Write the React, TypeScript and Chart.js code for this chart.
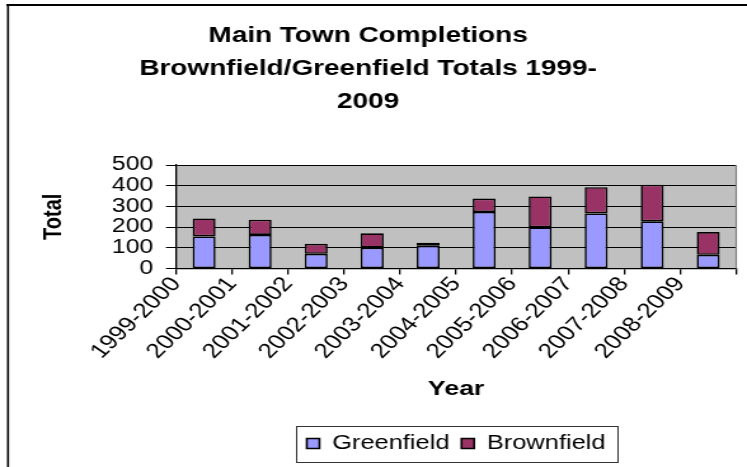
import React, { useEffect, useRef } from 'react';
import { Chart, registerables } from 'chart.js';

Chart.register(...registerables);

const categories = [
  '1999-2000', '2000-2001', '2001-2002', '2002-2003', '2003-2004',
  '2004-2005', '2005-2006', '2006-2007', '2007-2008', '2008-2009',
];
const greenfield = [155, 162, 71, 101, 110, 273, 199, 266, 228, 66];
const brownfield = [87, 74, 48, 69, 15, 65, 149, 127, 177, 110];
const titleLines = ['Main Town Completions', 'Brownfield/Greenfield Totals 1999-', '2009'];

const FONT = '"Liberation Sans", Arial, sans-serif';
// internal canvas width is horizontally stretched to the display width
const W = 588;
const H = 467;
const DISPLAY_W = 747;

const decor = {
  id: 'decor',
  beforeDraw(chart: any) {
    const { ctx, chartArea: a } = chart;
    ctx.save();
    ctx.fillStyle = '#ffffff';
    ctx.fillRect(0, 0, chart.width, chart.height);
    ctx.fillStyle = '#C0C0C0';
    ctx.fillRect(a.left, a.top, a.right - a.left, a.bottom - a.top);
    ctx.strokeStyle = '#000';
    ctx.lineWidth = 2;
    ctx.beginPath();
    ctx.moveTo(5, 5);
    ctx.lineTo(chart.width + 2, 5);
    ctx.stroke();
    ctx.lineWidth = 1.6;
    ctx.beginPath();
    ctx.moveTo(6.3, 4);
    ctx.lineTo(6.3, chart.height + 2);
    ctx.stroke();
    ctx.restore();
  },
  afterDraw(chart: any) {
    const { ctx, chartArea: a } = chart;
    ctx.save();
    ctx.strokeStyle = '#808080';
    ctx.lineWidth = 1.2;
    ctx.beginPath();
    ctx.moveTo(a.right, a.top);
    ctx.lineTo(a.right, a.bottom);
    ctx.stroke();
    const hb = chart.legend && chart.legend.legendHitBoxes;
    if (hb && hb.length) {
      const first = hb[0];
      const last = hb[hb.length - 1];
      const cy = first.top + first.height / 2;
      const x0 = first.left - 8.5;
      const x1 = last.left + last.width + 9;
      ctx.strokeStyle = '#333';
      ctx.lineWidth = 1;
      ctx.strokeRect(Math.round(x0) + 0.5, Math.round(cy - 18) + 0.5, Math.round(x1 - x0), 36);
    }
    ctx.restore();
  },
};

export default function App() {
  const ref = useRef<HTMLCanvasElement | null>(null);

  useEffect(() => {
    document.body.style.margin = '0';
    const canvas = ref.current;
    if (!canvas) return;
    const chart = new Chart(canvas, {
      type: 'bar',
      data: {
        labels: categories,
        datasets: [
          {
            label: 'Greenfield',
            data: greenfield,
            backgroundColor: '#9999FF',
            borderColor: '#000000',
            borderWidth: 1.6,
            borderSkipped: false,
            barPercentage: 0.41,
            categoryPercentage: 1,
            stack: 's',
          },
          {
            label: 'Brownfield',
            data: brownfield,
            backgroundColor: '#993366',
            borderColor: '#000000',
            borderWidth: 1.6,
            borderSkipped: false,
            barPercentage: 0.41,
            categoryPercentage: 1,
            stack: 's',
          },
        ],
      },
      options: {
        responsive: false,
        animation: false,
        devicePixelRatio: 1,
        events: [],
        layout: { padding: { top: 0, left: 0, right: 8.5, bottom: 3.5 } },
        plugins: {
          title: {
            display: true,
            text: titleLines,
            color: '#000',
            font: { family: FONT, size: 22, weight: 'bold', lineHeight: '33px' },
            padding: { top: 19.5, bottom: 46.5 },
          },
          legend: {
            display: true,
            position: 'bottom',
            fullSize: false,
            labels: {
              color: '#000',
              font: { family: FONT, size: 20 },
              boxWidth: 10,
              boxHeight: 10,
              padding: 9.5,
            },
          },
          tooltip: { enabled: false },
        },
        scales: {
          x: {
            stacked: true,
            offset: true,
            afterFit: (scale: any) => {
              scale.height = 155.5;
            },
            grid: {
              display: true,
              drawOnChartArea: false,
              drawTicks: true,
              tickLength: 6,
              offset: true,
              color: '#000',
              lineWidth: 1.3,
            },
            border: { display: true, color: '#000', width: 1.3 },
            ticks: {
              autoSkip: false,
              minRotation: 50,
              maxRotation: 50,
              labelOffset: -22,
              padding: -2,
              color: '#000',
              font: { family: FONT, size: 20.5 },
            },
            title: {
              display: true,
              text: 'Year',
              color: '#000',
              font: { family: FONT, size: 21, weight: 'bold', lineHeight: 1.2 },
              padding: { top: 0, bottom: 22.5 },
            },
          },
          y: {
            stacked: true,
            min: 0,
            max: 500,
            afterFit: (scale: any) => {
              scale.width = 138.6;
            },
            grid: {
              display: true,
              drawOnChartArea: true,
              drawTicks: true,
              tickLength: 8,
              color: '#000',
              lineWidth: 1,
            },
            border: { display: true, color: '#000', width: 1.3 },
            ticks: {
              autoSkip: false,
              stepSize: 100,
              padding: 10,
              color: '#000',
              font: { family: FONT, size: 19.5 },
            },
            title: {
              display: true,
              text: 'Total',
              color: '#000',
              font: { family: FONT, size: 20, weight: 'bold', lineHeight: 1.2 },
              padding: { top: 30, bottom: 0 },
            },
          },
        },
      },
      plugins: [decor],
    } as any);
    return () => chart.destroy();
  }, []);

  return (
    <canvas
      ref={ref}
      width={W}
      height={H}
      style={{
        position: 'fixed',
        left: 0,
        top: 0,
        width: `${DISPLAY_W}px`,
        height: `${H}px`,
        display: 'block',
      }}
    />
  );
}
